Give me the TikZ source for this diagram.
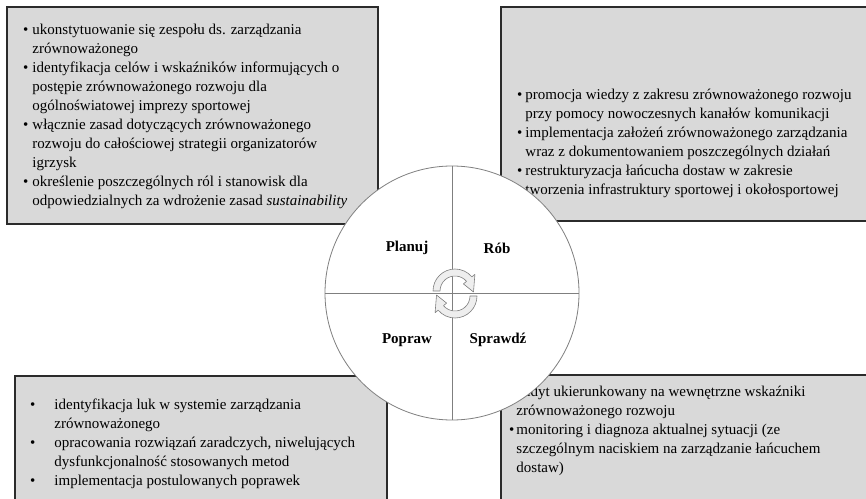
\documentclass[tikz,border=0pt]{standalone}
\usepackage{fontspec}
\setmainfont{Liberation Serif}
\usepackage{tikz}
\usetikzlibrary{calc}
\definecolor{panelfill}{HTML}{D9D9D9}
\definecolor{panelline}{HTML}{2B2B2B}
\definecolor{ringline}{HTML}{7F7F7F}
\definecolor{arrowfill}{HTML}{EEEEEE}
\tikzset{
  panel/.style={draw=panelline, fill=panelfill, line width=1.4pt},
  ring/.style={circle, draw=ringline, fill=white, line width=0.8pt, minimum size=254pt, inner sep=0pt},
  cross/.style={draw=ringline, line width=0.8pt},
  cyc/.style={draw=ringline, fill=arrowfill, line width=0.6pt, line join=round},
  txt/.style={inner sep=0pt, anchor=north west, font=\fontsize{15}{19}\selectfont},
  lab/.style={font=\fontsize{15}{18}\selectfont\bfseries},
}
\newcommand{\bul}{\textbullet}

\begin{document}
\begin{tikzpicture}[x=1pt,y=1pt]
  \useasboundingbox (0,0) rectangle (866,498);
  % four panels
  \draw[panel] (7,491) rectangle (378,274);
  \draw[panel] (501,491) rectangle (875,277);
  \draw[panel] (15,122) rectangle (387,-8);
  \draw[panel] (501,123) rectangle (875,-8);

  \node[txt] (plantxt) at (23,477) {\begin{tabular}{@{}l@{\hspace{4pt}}l@{}}
    \bul & ukonstytuowanie się zespołu ds. zarządzania\\
         & zrównoważonego\\
    \bul & identyfikacja celów i wskaźników informujących o\\
         & postępie zrównoważonego rozwoju dla\\
         & ogólnoświatowej imprezy sportowej\\
    \bul & włącznie zasad dotyczących zrównoważonego\\
         & rozwoju do całościowej strategii organizatorów\\
         & igrzysk\\
    \bul & określenie poszczególnych ról i stanowisk dla\\
         & odpowiedzialnych za wdrożenie zasad \textit{sustainability}
  \end{tabular}};
  \node[txt] (dotxt) at (517,412) {\begin{tabular}{@{}l@{\hspace{3pt}}l@{}}
    \bul & promocja wiedzy z zakresu zrównoważonego rozwoju\\
         & przy pomocy nowoczesnych kanałów komunikacji\\
    \bul & implementacja założeń zrównoważonego zarządzania\\
         & wraz z dokumentowaniem poszczególnych działań\\
    \bul & restrukturyzacja łańcucha dostaw w zakresie\\
         & tworzenia infrastruktury sportowej i okołosportowej
  \end{tabular}};
  \node[txt] (acttxt) at (30,102) {\begin{tabular}{@{}l@{\hspace{19pt}}l@{}}
    \bul & identyfikacja luk w systemie zarządzania\\
         & zrównoważonego\\
    \bul & opracowania rozwiązań zaradczych, niwelujących\\
         & dysfunkcjonalność stosowanych metod\\
    \bul & implementacja postulowanych poprawek
  \end{tabular}};
  \node[txt] (checktxt) at (509,115) {\begin{tabular}{@{}l@{\hspace{2pt}}l@{}}
    \bul & audyt ukierunkowany na wewnętrzne wskaźniki\\
         & zrównoważonego rozwoju\\
    \bul & monitoring i diagnoza aktualnej sytuacji (ze\\
         & szczególnym naciskiem na zarządzanie łańcuchem\\
         & dostaw)
  \end{tabular}};

  % PDCA wheel
  \node[ring] (wheel) at (452,205) {};
  \draw[cross] (wheel.north) -- (wheel.south);
  \draw[cross] (wheel.west) -- (wheel.east);
  \node[lab] (plan) at (407,250) {Planuj};
  \node[lab] (do) at (497,250) {Rób};
  \node[lab] (act) at (407,158) {Popraw};
  \node[lab] (check) at (498,158) {Sprawdź};

  \foreach \cx/\cy/\rot in {455/207/0, 455/202/180}{
    \begin{scope}[shift={(\cx,\cy)}, rotate=\rot]
      \draw[cyc] (180:22) arc[start angle=180, end angle=40, radius=22]
        -- (40:26) -- (-3:18.5) -- (40:11) -- (40:15)
        arc[start angle=40, end angle=180, radius=15] -- cycle;
    \end{scope}
  }
\end{tikzpicture}
\end{document}
